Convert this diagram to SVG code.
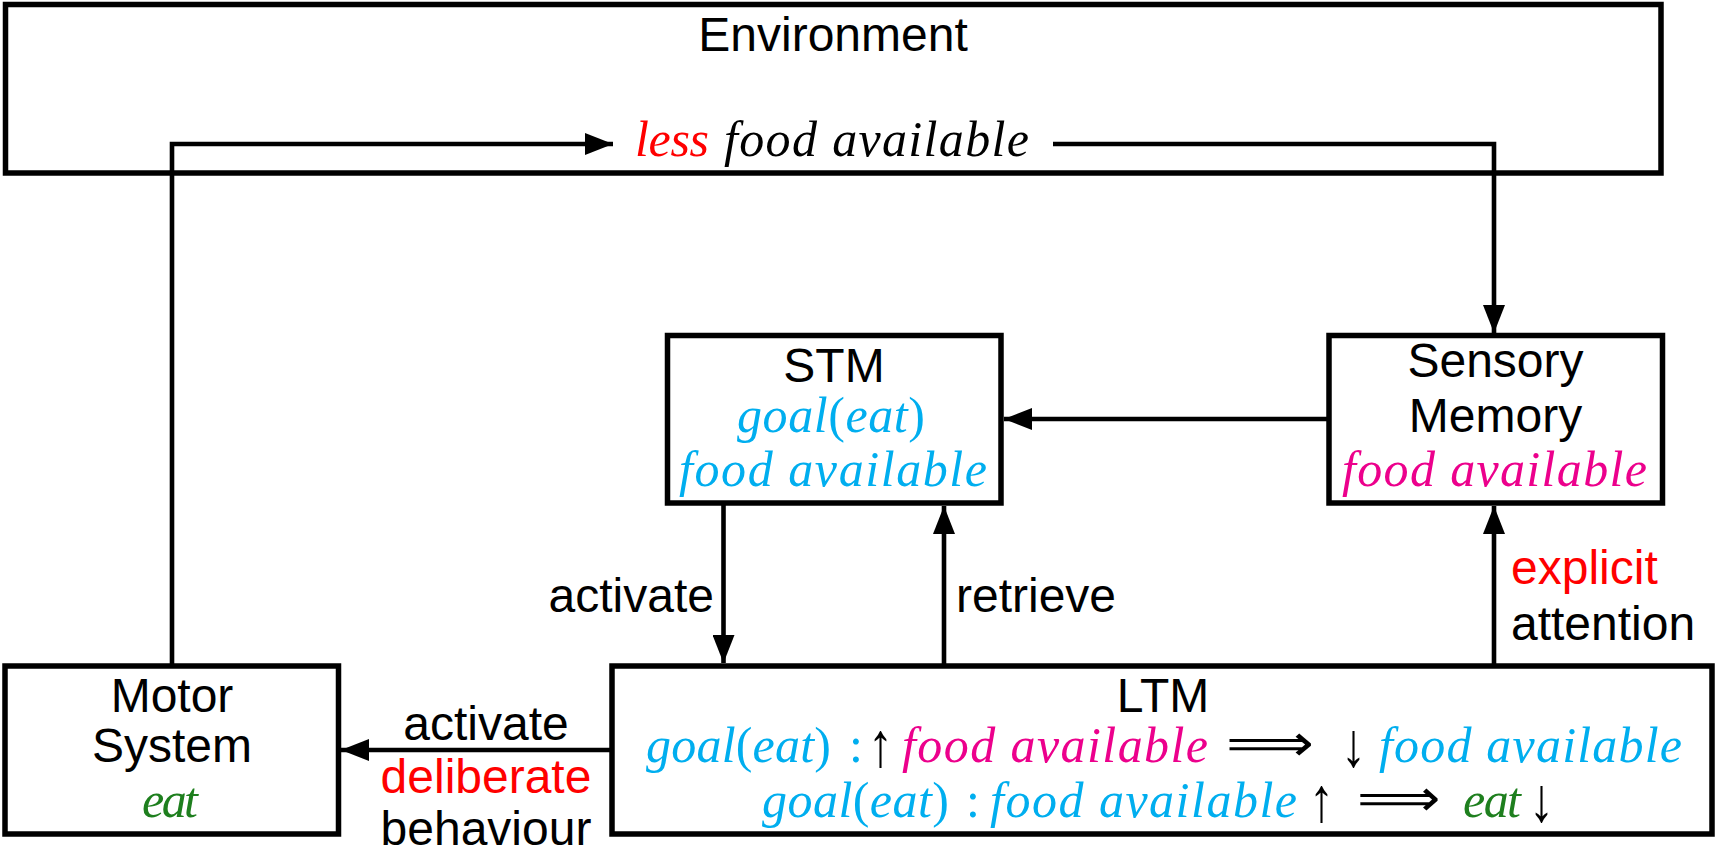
<svg xmlns="http://www.w3.org/2000/svg" width="1716" height="853" viewBox="0 0 1716 853">
<style>
.box{fill:#fff;stroke:#000;stroke-width:5.5}
.ln{fill:none;stroke:#000;stroke-width:4.6}
.sans{font-family:"Liberation Sans",sans-serif;font-size:48px;fill:#000}
.m{font-family:"Liberation Serif",serif;font-style:italic;font-size:50px}
.up{font-style:normal}
.sym{font-family:"DejaVu Sans",sans-serif;font-style:normal;font-size:52px;fill:#000}
.arr{font-family:"Liberation Serif","DejaVu Serif",serif;font-style:normal;font-size:50px;fill:#000}
.cy{fill:#00AEEF}
.mg{fill:#EC008C}
.gr{fill:#1E7F1E}
.rd{fill:#FF0000}
.bk{fill:#000}
</style>
<defs>
<marker id="ah" markerUnits="userSpaceOnUse" markerWidth="28" markerHeight="22" refX="28" refY="11" orient="auto" viewBox="0 0 28 22">
<path d="M0,0 L28,11 L0,22 z" fill="#000"/>
</marker>
</defs>

<g id="environment">
<rect class="box" x="5.5" y="4.5" width="1655.5" height="168.5"/>
<text class="sans" x="833" y="51" text-anchor="middle">Environment</text>
</g>

<g id="connectors">
<path class="ln" d="M172,666 V144 H613" marker-end="url(#ah)"/>
<path class="ln" d="M1053,144 H1494 V333" marker-end="url(#ah)"/>
<path class="ln" d="M1329,419 H1004" marker-end="url(#ah)"/>
<path class="ln" d="M723.5,503 V663" marker-end="url(#ah)"/>
<path class="ln" d="M944,665 V506" marker-end="url(#ah)"/>
<path class="ln" d="M1494,665 V506" marker-end="url(#ah)"/>
<path class="ln" d="M612,750 H341" marker-end="url(#ah)"/>
</g>

<g id="env-label">
<text class="m rd" x="635" y="156" textLength="74" lengthAdjust="spacing">less</text>
<text class="m bk" x="724" y="156" textLength="305" lengthAdjust="spacing">food available</text>
</g>

<g id="stm">
<rect class="box" x="667.5" y="335.5" width="333.5" height="167.5"/>
<text class="sans" x="834" y="382" text-anchor="middle">STM</text>
<text class="m cy" x="737" y="432" textLength="188" lengthAdjust="spacing">goal<tspan class="up">(</tspan>eat<tspan class="up">)</tspan></text>
<text class="m cy" x="679" y="486" textLength="308" lengthAdjust="spacing">food available</text>
</g>

<g id="sensory-memory">
<rect class="box" x="1329" y="335.5" width="333.5" height="167.5"/>
<text class="sans" x="1495.5" y="377" text-anchor="middle">Sensory</text>
<text class="sans" x="1495.5" y="432" text-anchor="middle">Memory</text>
<text class="m mg" x="1342" y="486" textLength="305" lengthAdjust="spacing">food available</text>
</g>

<g id="motor-system">
<rect class="box" x="5" y="666" width="333.5" height="168"/>
<text class="sans" x="172" y="712" text-anchor="middle">Motor</text>
<text class="sans" x="172" y="762" text-anchor="middle">System</text>
<text class="m gr" x="142" y="817" textLength="56" lengthAdjust="spacing">eat</text>
</g>

<g id="ltm">
<rect class="box" x="612" y="666" width="1100" height="168"/>
<text class="sans" x="1163" y="712" text-anchor="middle">LTM</text>
<text class="m cy" x="646" y="762" textLength="185" lengthAdjust="spacing">goal<tspan class="up">(</tspan>eat<tspan class="up">)</tspan></text>
<text class="m cy up" x="849" y="762">:</text>
<text class="arr" transform="translate(868,766) scale(1,1.25)">↑</text>
<text class="m mg" x="902" y="762" textLength="306" lengthAdjust="spacing">food available</text>
<text class="sym" transform="translate(1226,761) scale(1.18,1)">⟹</text>
<text class="arr" transform="translate(1341,766) scale(1,1.25)">↓</text>
<text class="m cy" x="1379" y="762" textLength="303" lengthAdjust="spacing">food available</text>

<text class="m cy" x="762" y="817" textLength="187" lengthAdjust="spacing">goal<tspan class="up">(</tspan>eat<tspan class="up">)</tspan></text>
<text class="m cy up" x="966" y="817">:</text>
<text class="m cy" x="990" y="817" textLength="307" lengthAdjust="spacing">food available</text>
<text class="arr" transform="translate(1309,821) scale(1,1.25)">↑</text>
<text class="sym" transform="translate(1357,816) scale(1.12,1)">⟹</text>
<text class="m gr" x="1463" y="817" textLength="58" lengthAdjust="spacing">eat</text>
<text class="arr" transform="translate(1529,821) scale(1,1.25)">↓</text>
</g>

<g id="labels">
<text class="sans" x="714" y="612" text-anchor="end">activate</text>
<text class="sans" x="956" y="612">retrieve</text>
<text class="sans rd" x="1511" y="584">explicit</text>
<text class="sans" x="1511" y="640">attention</text>
<text class="sans" x="486" y="740" text-anchor="middle">activate</text>
<text class="sans rd" x="486" y="793" text-anchor="middle">deliberate</text>
<text class="sans" x="486" y="845" text-anchor="middle">behaviour</text>
</g>
</svg>
